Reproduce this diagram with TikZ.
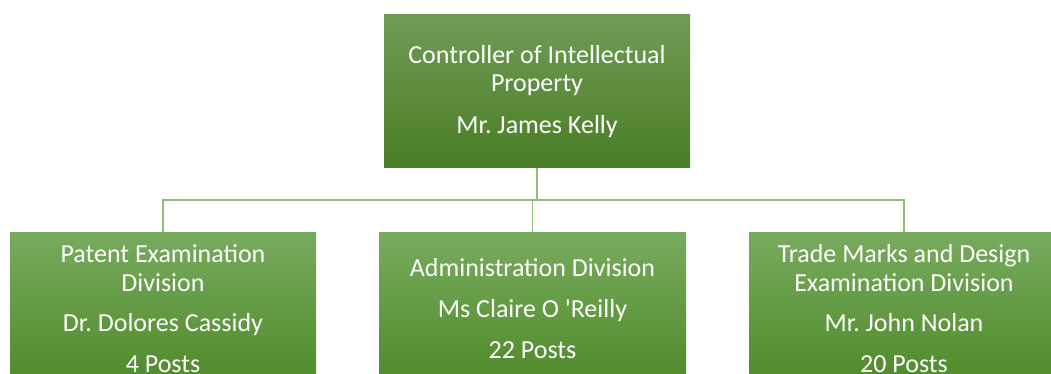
\documentclass[tikz,border=0pt]{standalone}
\usepackage{fontspec}
\setmainfont{Carlito}
\frenchspacing
\definecolor{topA}{HTML}{6F9B56}
\definecolor{topB}{HTML}{4A7E25}
\definecolor{botA}{HTML}{78AB5E}
\definecolor{botB}{HTML}{4F8A2A}
\definecolor{linkc}{HTML}{8CC07A}
\tikzset{
  orgbox/.style={rectangle, minimum width=306pt, minimum height=153pt, inner sep=0pt,
    text=white, align=center, font=\fontsize{26}{28.6}\selectfont},
  topfill/.style={top color=topA, bottom color=topB},
  botfill/.style={top color=botA, bottom color=botB},
  link/.style={draw=linkc, line width=1.3pt}
}
\begin{document}
\begin{tikzpicture}[x=1pt,y=-1pt]
\useasboundingbox (0,0) rectangle (1051,374);
\node[orgbox,topfill] (ctrl) at (537,91.5) {Controller of Intellectual\\Property\\[13pt]Mr. James Kelly};
\node[orgbox,botfill] (pat) at (163,308.5) {Patent Examination\\Division\\[12pt]Dr. Dolores Cassidy\\[12pt]4 Posts};
\node[orgbox,botfill,minimum width=307pt] (adm) at (532.5,308.5) {Administration Division\\[13pt]Ms Claire O \textquotesingle Reilly\\[12pt]22 Posts};
\node[orgbox,botfill,minimum width=310pt] (tm) at (904,308.5) {Trade Marks and Design\\Examination Division\\[12pt]Mr. John Nolan\\[12pt]20 Posts};
\coordinate (hub) at (537,200);
\draw[link] (ctrl.south) -- (hub);
\draw[link] (pat.north) |- (hub);
\draw[link] (tm.north) |- (hub);
\draw[link] (adm.north) -- (adm.north |- hub);
\end{tikzpicture}
\end{document}
